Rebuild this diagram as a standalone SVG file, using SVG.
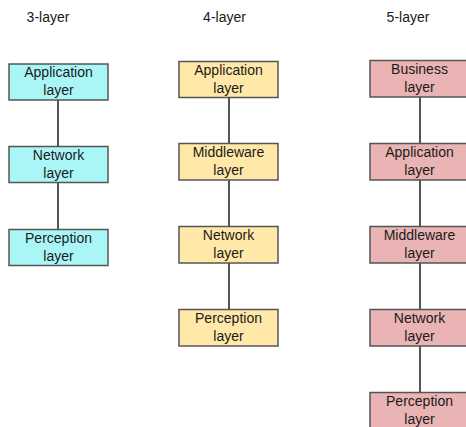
<svg xmlns="http://www.w3.org/2000/svg" width="466" height="427" viewBox="0 0 466 427">
<style>
text{font-family:"Liberation Sans",Arial,sans-serif;font-size:14px;fill:#1a1a1a;text-anchor:middle}
.b{stroke:#555;stroke-width:1.5}
.c{fill:#aaf6f7}.y{fill:#ffe8a8}.p{fill:#eab4b4}
#connectors line{stroke:#555;stroke-width:2}
</style>
<rect width="466" height="427" fill="#fff"/>
<text x="48" y="22">3-layer</text>
<text x="224.5" y="22">4-layer</text>
<text x="408" y="22">5-layer</text>
<g id="connectors">
<line x1="58" y1="100" x2="58" y2="146"/>
<line x1="58" y1="183" x2="58" y2="229"/>
<line x1="229" y1="98" x2="229" y2="143"/>
<line x1="229" y1="180" x2="229" y2="226"/>
<line x1="229" y1="263" x2="229" y2="309"/>
<line x1="420" y1="97" x2="420" y2="143"/>
<line x1="420" y1="180" x2="420" y2="226"/>
<line x1="420" y1="263" x2="420" y2="309"/>
<line x1="420" y1="346" x2="420" y2="392"/>
</g>
<g id="a1"><rect class="b c" x="9" y="64" width="99" height="36"/><text x="58.5" y="77">Application</text><text x="58.5" y="95">layer</text></g>
<g id="a2"><rect class="b c" x="9" y="146.5" width="99" height="36"/><text x="58.5" y="159.5">Network</text><text x="58.5" y="177.5">layer</text></g>
<g id="a3"><rect class="b c" x="9" y="229.5" width="99" height="36"/><text x="58.5" y="242.5">Perception</text><text x="58.5" y="260.5">layer</text></g>
<g id="b1"><rect class="b y" x="179" y="61.5" width="99" height="36"/><text x="228.5" y="74.5">Application</text><text x="228.5" y="92.5">layer</text></g>
<g id="b2"><rect class="b y" x="179" y="143.5" width="99" height="36.5"/><text x="228.5" y="157">Middleware</text><text x="228.5" y="175">layer</text></g>
<g id="b3"><rect class="b y" x="179" y="226.5" width="99" height="36.5"/><text x="228.5" y="240">Network</text><text x="228.5" y="258">layer</text></g>
<g id="b4"><rect class="b y" x="179" y="309.5" width="99" height="36.5"/><text x="228.5" y="323">Perception</text><text x="228.5" y="341">layer</text></g>
<g id="c1"><rect class="b p" x="370" y="60.5" width="99" height="36.5"/><text x="419.5" y="74">Business</text><text x="419.5" y="92">layer</text></g>
<g id="c2"><rect class="b p" x="370" y="143.5" width="99" height="36.5"/><text x="419.5" y="157">Application</text><text x="419.5" y="175">layer</text></g>
<g id="c3"><rect class="b p" x="370" y="226.5" width="99" height="36.5"/><text x="419.5" y="240">Middleware</text><text x="419.5" y="258">layer</text></g>
<g id="c4"><rect class="b p" x="370" y="309.5" width="99" height="36.5"/><text x="419.5" y="323">Network</text><text x="419.5" y="341">layer</text></g>
<g id="c5"><rect class="b p" x="370" y="392.5" width="99" height="40"/><text x="419.5" y="406">Perception</text><text x="419.5" y="424">layer</text></g>
</svg>
